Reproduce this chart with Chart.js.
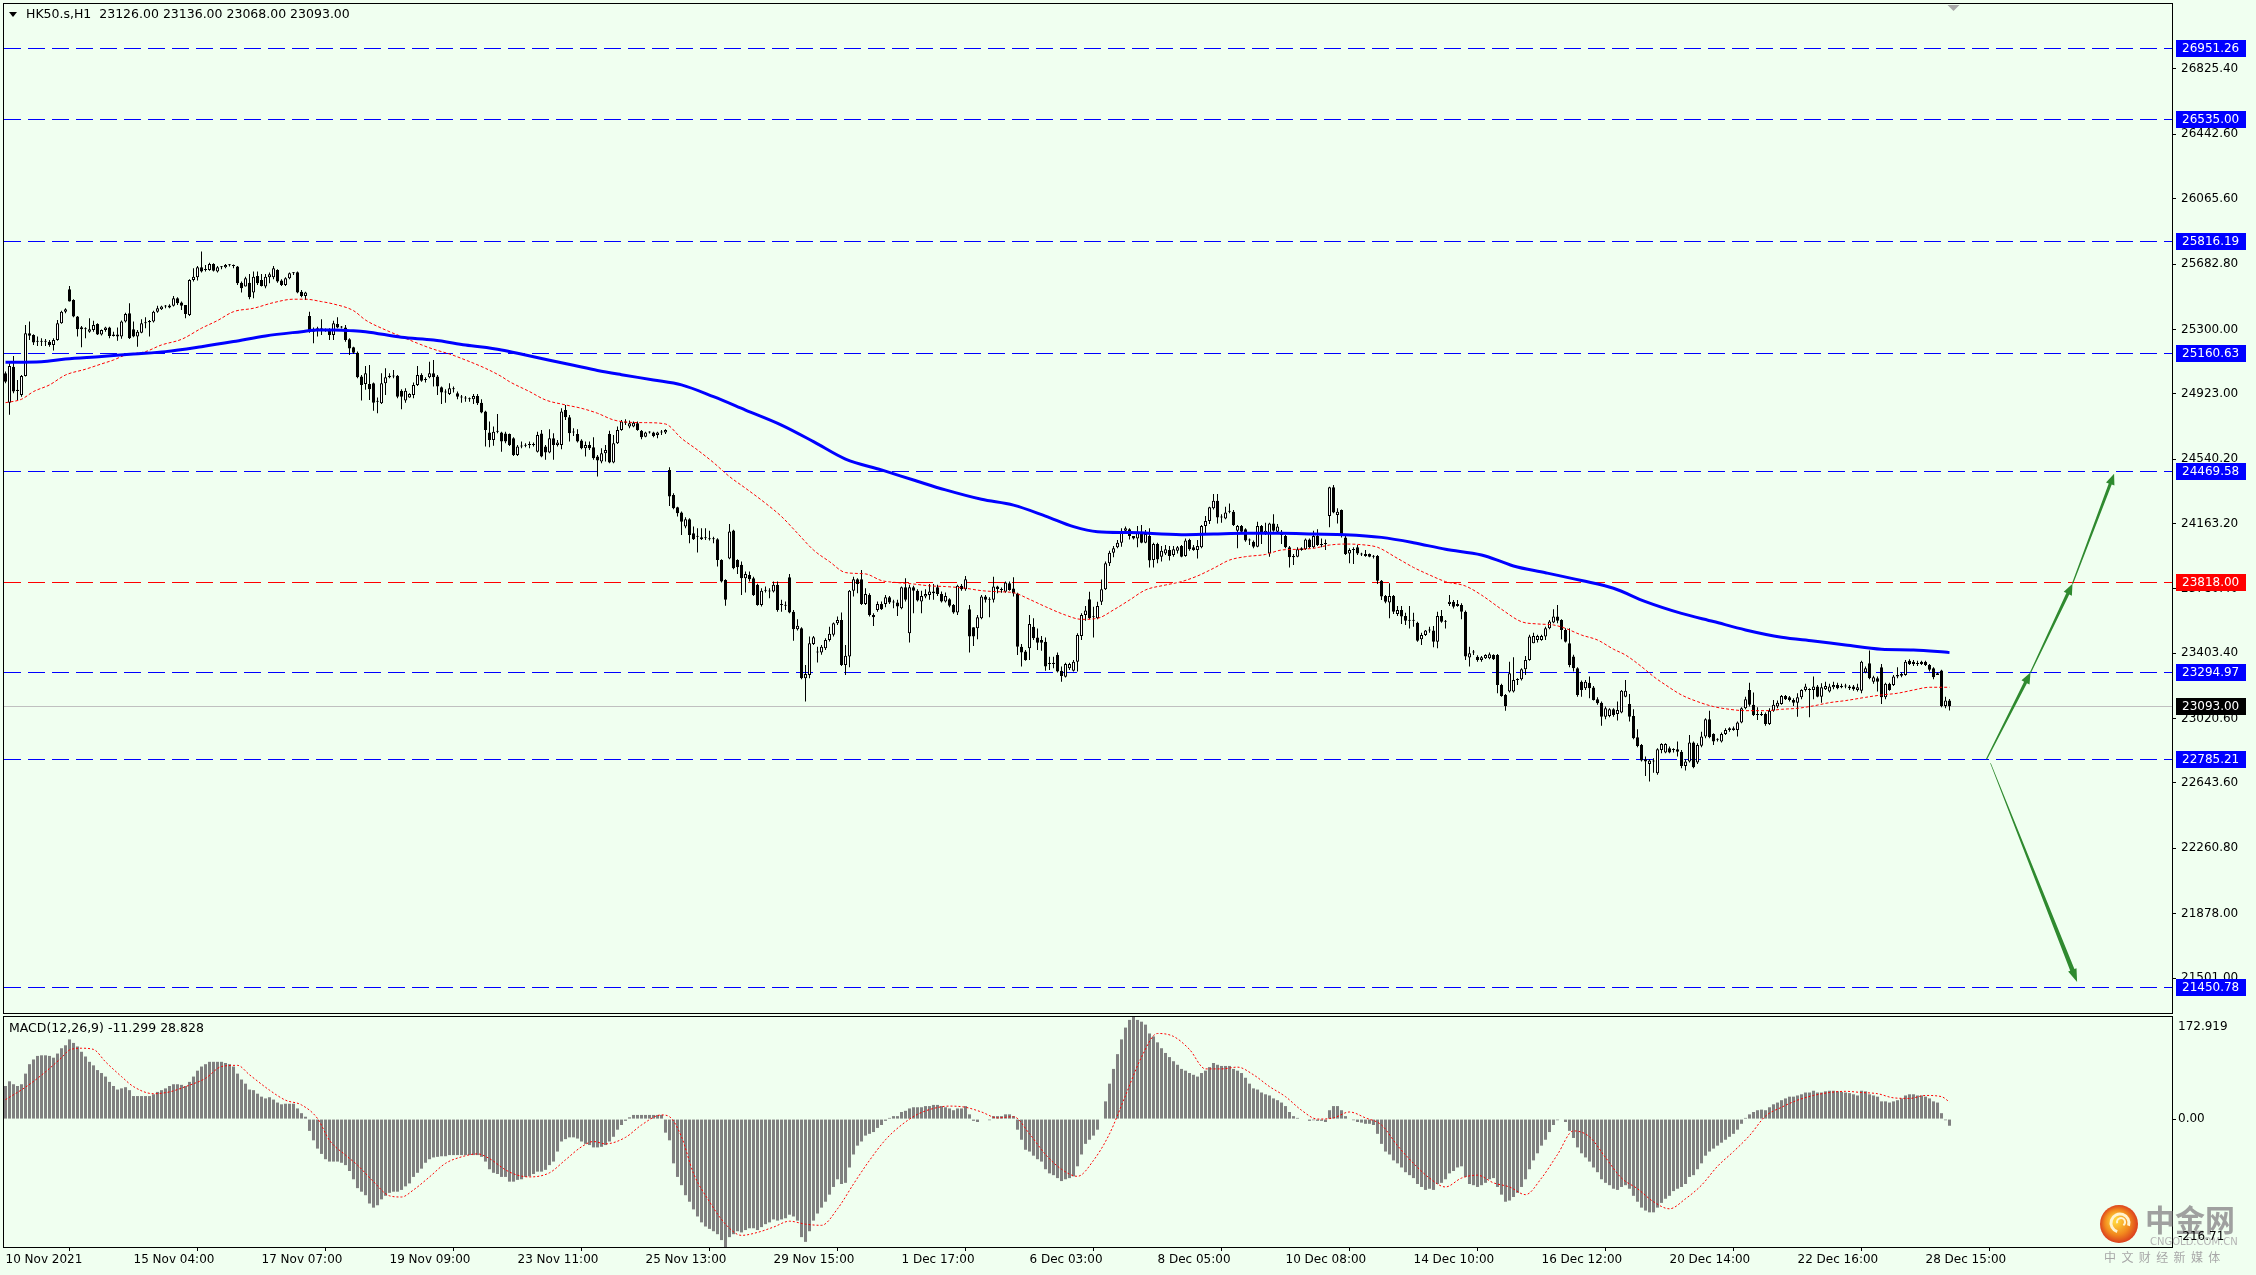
<!DOCTYPE html>
<html>
<head>
<meta charset="utf-8">
<title>HK50.s,H1</title>
<script src="https://cdn.jsdelivr.net/npm/chart.js@4.4.1/dist/chart.umd.min.js"></script>
<style>
  html, body { margin: 0; padding: 0; background: #f0fff0; }
  #wrap { position: relative; width: 2256px; height: 1275px; overflow: hidden; background: #f0fff0; }
  canvas { position: absolute; left: 0; }
  #main { top: 0; }
  #macd { top: 1014px; }
</style>
</head>
<body>
<div id="wrap">
  <canvas id="main" width="2256" height="1014"></canvas>
  <canvas id="macd" width="2256" height="261"></canvas>
</div>
<script>
// ─── data: HK50 H1 candles (bar index 0 = 10 Nov 2021) ───
const opens = [
  25043,24870,25082,24940,24916,25027,25277,25268,25228,25233,
  25228,25228,25209,25238,25336,25404,25535,25473,25375,25313,
  25301,25287,25297,25332,25271,25297,25312,25262,25271,25258,
  25346,25395,25301,25258,25281,25336,25342,25346,25404,25418,
  25434,25428,25438,25482,25457,25443,25385,25590,25605,25664,
  25648,25648,25683,25639,25664,25664,25676,25672,25668,25574,
  25551,25574,25516,25613,25590,25551,25605,25605,25648,25586,
  25560,25600,25629,25635,25521,25496,25379,25287,25301,25307,
  25297,25297,25268,25332,25312,25312,25242,25195,25164,25024,
  24981,24981,24985,24877,24867,24985,25020,25024,25028,24941,
  24883,24902,24916,24975,25033,25004,25020,25043,25024,24961,
  24930,24922,24950,24926,24902,24896,24891,24891,24910,24871,
  24819,24696,24653,24701,24696,24691,24687,24662,24565,24614,
  24618,24623,24623,24584,24691,24614,24579,24662,24623,24623,
  24828,24785,24696,24687,24649,24604,24623,24610,24555,24526,
  24575,24688,24520,24633,24711,24760,24731,24731,24750,24707,
  24672,24696,24696,24682,24696,24696,24477,24330,24258,24227,
  24145,24188,24106,24086,24071,24077,24071,24071,24071,23950,
  23833,23959,24122,23950,23921,23843,23862,23843,23804,23686,
  23770,23765,23765,23804,23686,23681,23848,23647,23544,23550,
  23257,23276,23458,23412,23407,23433,23481,23511,23579,23598,
  23335,23384,23770,23837,23837,23692,23745,23628,23657,23692,
  23692,23731,23700,23700,23667,23790,23520,23790,23770,23706,
  23735,23745,23755,23790,23751,23706,23720,23686,23642,23798,
  23778,23661,23555,23550,23608,23735,23716,23716,23794,23774,
  23764,23813,23783,23754,23442,23413,23432,23559,23496,23481,
  23471,23340,23348,23393,23301,23266,23315,23301,23354,23504,
  23627,23719,23614,23608,23705,23778,23930,23992,24024,24051,
  24121,24129,24090,24076,24115,24051,24090,23949,24043,23969,
  23988,24008,23979,24004,24031,23973,24067,24024,24008,24024,
  24149,24178,24252,24297,24199,24193,24232,24232,24121,24149,
  24129,24063,24057,24027,24149,24106,23988,24164,24115,24115,
  24090,24024,23973,23969,24008,24012,24070,24024,24090,24037,
  24043,24207,24375,24213,24242,24082,23988,24008,24024,23985,
  23973,23985,23969,23973,23828,23739,23700,23739,23633,23657,
  23621,23594,23594,23582,23485,23510,23536,23536,23471,23621,
  23588,23692,23705,23680,23686,23647,23379,23407,23383,23364,
  23374,23374,23393,23393,23218,23159,23179,23179,23247,23251,
  23309,23364,23462,23481,23481,23501,23550,23583,23618,23598,
  23540,23462,23384,23315,23237,23198,23231,23202,23134,23114,
  23032,23036,23075,23048,23056,23149,23106,23036,22911,22866,
  22783,22755,22769,22700,22837,22822,22847,22837,22841,22827,
  22743,22769,22880,22763,22861,22915,23017,22931,22896,22886,
  22931,22954,22964,22954,22997,23081,23188,23101,23048,23042,
  23048,22989,23067,23091,23106,23153,23145,23130,23114,23145,
  23188,23188,23188,23208,23149,23192,23179,23204,23218,23212,
  23208,23208,23208,23188,23184,23290,23345,23237,23257,23321,
  23145,23224,23218,23267,23271,23276,23360,23354,23345,23354,
  23354,23335,23315,23286,23302,23095,23126
];
const highs = [
  25053,25102,25145,25004,25033,25326,25346,25272,25258,25248,
  25244,25238,25248,25355,25410,25424,25555,25477,25379,25320,
  25313,25365,25351,25336,25300,25316,25316,25287,25312,25352,
  25398,25453,25346,25297,25359,25371,25355,25410,25438,25438,
  25443,25447,25496,25488,25463,25443,25594,25658,25672,25756,
  25678,25691,25687,25672,25672,25683,25683,25681,25672,25580,
  25609,25625,25639,25639,25625,25625,25633,25672,25652,25594,
  25605,25633,25637,25639,25531,25521,25404,25312,25316,25359,
  25305,25307,25351,25371,25320,25326,25248,25199,25170,25033,
  25086,25092,24989,24902,25043,25072,25043,25063,25033,24950,
  24955,24926,24989,25086,25043,25020,25111,25121,25033,24965,
  24950,24985,24965,24936,24916,24910,24902,24922,24922,24891,
  24824,24760,24731,24805,24701,24701,24691,24668,24623,24643,
  24633,24643,24637,24701,24711,24623,24715,24692,24653,24838,
  24858,24799,24721,24715,24657,24643,24643,24668,24565,24604,
  24623,24707,24682,24731,24770,24774,24766,24760,24760,24711,
  24701,24704,24701,24701,24711,24715,24493,24340,24262,24233,
  24200,24194,24145,24135,24135,24135,24121,24086,24077,23954,
  23837,24161,24126,23954,23940,23882,23882,23852,23810,23784,
  23794,23784,23823,23823,23716,23706,23868,23657,23602,23555,
  23335,23501,23505,23442,23452,23491,23559,23583,23618,23642,
  23452,23774,23852,23843,23891,23784,23755,23638,23706,23706,
  23745,23739,23716,23716,23794,23843,23804,23798,23778,23770,
  23778,23809,23809,23804,23765,23759,23725,23692,23804,23809,
  23856,23686,23555,23628,23745,23745,23731,23852,23798,23789,
  23823,23823,23848,23758,23457,23422,23627,23608,23549,23504,
  23496,23383,23383,23407,23325,23348,23348,23364,23520,23637,
  23680,23764,23676,23705,23836,23940,24004,24031,24067,24135,
  24145,24135,24090,24149,24154,24125,24135,24051,24051,24031,
  24037,24031,24031,24031,24037,24076,24074,24037,24067,24154,
  24207,24262,24336,24336,24218,24262,24281,24242,24154,24154,
  24135,24076,24063,24174,24154,24168,24168,24218,24160,24125,
  24096,24031,23985,24024,24024,24076,24076,24121,24129,24076,
  24070,24379,24389,24252,24246,24090,24018,24024,24037,23992,
  24008,23988,23979,23979,23832,23744,23813,23744,23680,23680,
  23641,23680,23641,23588,23524,23540,23559,23563,23647,23657,
  23598,23744,23715,23715,23696,23653,23442,23422,23391,23387,
  23397,23407,23397,23399,23224,23165,23354,23380,23257,23315,
  23387,23511,23524,23511,23511,23559,23598,23661,23686,23602,
  23550,23550,23394,23321,23243,23247,23267,23212,23145,23120,
  23091,23081,23081,23120,23188,23247,23165,23075,22958,22872,
  22798,22783,22788,22847,22876,22876,22857,22847,22886,22837,
  22783,22925,22886,22876,22944,23022,23067,22935,22905,22939,
  22964,22970,22974,23003,23087,23149,23231,23173,23087,23061,
  23056,23081,23130,23126,23159,23159,23153,23140,23169,23192,
  23224,23198,23267,23218,23227,23237,23224,23237,23231,23224,
  23224,23218,23218,23224,23360,23325,23419,23271,23267,23341,
  23231,23231,23276,23321,23290,23364,23368,23364,23360,23360,
  23360,23341,23321,23290,23306,23149,23136
];
const lows = [
  24985,24800,24926,24887,24906,25024,25238,25209,25203,25203,
  25203,25199,25176,25234,25333,25395,25463,25371,25258,25195,
  25248,25281,25287,25268,25265,25287,25248,25258,25234,25246,
  25340,25244,25254,25199,25277,25307,25258,25340,25398,25414,
  25424,25424,25434,25443,25414,25365,25379,25580,25586,25633,
  25639,25644,25639,25633,25652,25658,25668,25658,25560,25516,
  25551,25477,25482,25560,25551,25541,25570,25594,25574,25555,
  25555,25594,25619,25512,25488,25473,25281,25219,25258,25268,
  25287,25238,25238,25307,25305,25228,25150,25156,25014,24883,
  24946,24887,24824,24809,24863,24916,25014,25014,24897,24832,
  24871,24900,24897,24969,24994,24989,25014,24965,24916,24863,
  24871,24916,24930,24891,24871,24877,24877,24863,24857,24809,
  24614,24610,24618,24692,24584,24633,24617,24559,24559,24604,
  24610,24604,24614,24579,24551,24536,24575,24536,24614,24598,
  24770,24643,24676,24637,24598,24555,24594,24536,24438,24516,
  24526,24516,24516,24629,24707,24740,24721,24727,24707,24657,
  24668,24690,24668,24662,24682,24688,24266,24247,24204,24096,
  24135,24047,24067,23993,24067,24067,24063,24047,23911,23817,
  23681,23954,23895,23868,23745,23759,23823,23739,23681,23677,
  23759,23726,23759,23647,23647,23657,23638,23477,23536,23251,
  23120,23257,23452,23349,23394,23423,23472,23501,23569,23329,
  23276,23321,23735,23755,23686,23686,23618,23563,23647,23657,
  23673,23692,23667,23622,23661,23706,23466,23638,23706,23638,
  23725,23716,23716,23739,23700,23700,23673,23634,23628,23770,
  23770,23407,23446,23485,23603,23700,23614,23700,23755,23758,
  23758,23770,23735,23393,23325,23360,23364,23481,23422,23418,
  23301,23305,23315,23290,23237,23262,23305,23296,23296,23481,
  23594,23602,23496,23602,23686,23774,23914,23965,24018,24027,
  24110,24070,24070,24024,24047,24047,23906,23906,23930,23940,
  23979,23946,23969,23988,23965,23969,24004,24004,23959,24018,
  24106,24160,24246,24164,24168,24188,24223,24149,24018,24102,
  24057,24037,24018,24024,24043,24096,23969,24115,24110,24043,
  24018,23906,23920,23965,24004,24008,24018,24018,24031,24024,
  24008,24141,24223,24164,24082,23979,23930,23926,23979,23973,
  23969,23965,23959,23809,23715,23696,23608,23633,23621,23575,
  23569,23549,23559,23471,23452,23504,23524,23438,23432,23582,
  23549,23680,23666,23676,23602,23364,23325,23393,23354,23354,
  23370,23368,23364,23169,23149,23067,23173,23173,23218,23243,
  23276,23360,23462,23466,23476,23481,23544,23579,23579,23485,
  23466,23321,23296,23149,23149,23188,23140,23126,23101,22978,
  23017,23028,23032,23009,23052,23145,23003,22899,22853,22769,
  22685,22652,22704,22691,22818,22818,22818,22822,22798,22730,
  22716,22763,22730,22755,22853,22905,22905,22866,22886,22880,
  22925,22944,22950,22915,22993,23075,23091,23036,23013,23036,
  22978,22983,23061,23081,23101,23130,23120,23095,23032,23134,
  23179,23028,23134,23145,23114,23188,23173,23192,23192,23198,
  23198,23188,23184,23179,23169,23286,23251,23224,23179,23106,
  23134,23184,23212,23257,23263,23271,23335,23329,23329,23335,
  23329,23296,23251,23276,23087,23081,23068
];
const closes = [
  24994,25086,24936,24946,25027,25277,25263,25223,25233,25228,
  25233,25209,25238,25336,25404,25418,25463,25375,25301,25301,
  25301,25301,25326,25271,25297,25312,25262,25271,25258,25346,
  25390,25248,25258,25287,25336,25342,25350,25404,25424,25434,
  25434,25440,25482,25453,25438,25390,25590,25609,25664,25639,
  25648,25683,25644,25664,25664,25678,25676,25672,25570,25541,
  25600,25488,25609,25570,25555,25609,25623,25658,25580,25560,
  25600,25629,25629,25516,25496,25516,25287,25301,25301,25293,
  25297,25268,25336,25312,25312,25238,25189,25164,25020,24975,
  25043,24950,24871,24877,24985,25020,25028,25024,24906,24906,
  24941,24922,24975,25033,25000,25004,25043,25020,24965,24930,
  24930,24955,24950,24906,24902,24896,24891,24910,24867,24813,
  24711,24653,24701,24701,24643,24643,24623,24565,24614,24618,
  24623,24623,24623,24682,24555,24579,24662,24623,24637,24819,
  24785,24692,24696,24643,24604,24623,24604,24545,24532,24575,
  24594,24520,24633,24711,24760,24754,24750,24754,24711,24668,
  24696,24696,24676,24696,24696,24711,24321,24252,24223,24174,
  24188,24096,24071,24086,24083,24077,24071,24071,23950,23823,
  23716,24116,23901,23907,23843,23868,23837,23745,23686,23770,
  23770,23765,23804,23657,23686,23681,23642,23544,23564,23257,
  23282,23462,23497,23407,23442,23481,23517,23579,23598,23335,
  23388,23770,23837,23809,23692,23751,23628,23614,23692,23661,
  23731,23700,23700,23677,23790,23716,23790,23770,23712,23739,
  23751,23765,23765,23751,23706,23739,23681,23642,23798,23778,
  23837,23501,23501,23614,23735,23716,23720,23794,23780,23774,
  23817,23774,23754,23442,23407,23364,23575,23491,23465,23465,
  23325,23340,23340,23296,23270,23340,23340,23354,23510,23627,
  23653,23608,23614,23680,23778,23930,23992,24018,24051,24121,
  24135,24090,24076,24110,24051,24102,23946,24043,23953,24004,
  24012,23973,24012,24024,23969,24063,24012,24008,24031,24149,
  24178,24258,24297,24199,24199,24227,24232,24154,24149,24115,
  24063,24063,24027,24149,24106,24121,24164,24121,24145,24096,
  24024,23965,23965,24012,24018,24070,24024,24090,24037,24037,
  24043,24375,24227,24232,24090,23985,24008,24012,23988,23982,
  23985,23969,23969,23828,23735,23705,23739,23647,23657,23618,
  23594,23594,23594,23477,23510,23536,23536,23471,23621,23588,
  23588,23705,23676,23692,23647,23384,23403,23407,23364,23380,
  23393,23397,23368,23218,23153,23095,23286,23247,23247,23309,
  23364,23501,23505,23505,23505,23550,23589,23618,23594,23540,
  23471,23335,23315,23159,23188,23237,23198,23130,23110,23032,
  23081,23075,23042,23071,23184,23184,23032,22905,22860,22775,
  22769,22775,22769,22841,22872,22872,22822,22837,22827,22743,
  22769,22880,22736,22866,22915,23017,22911,22886,22896,22931,
  22954,22964,22954,22997,23081,23134,23101,23042,23042,23048,
  22989,23067,23101,23114,23153,23134,23130,23114,23145,23188,
  23208,23188,23208,23149,23204,23212,23208,23218,23198,23204,
  23208,23198,23192,23204,23354,23315,23257,23263,23237,23145,
  23224,23188,23267,23276,23282,23354,23341,23341,23341,23341,
  23335,23306,23263,23276,23095,23126,23093
];

// moving averages, read at sample bars
const redMaBars = [0,4,7,11,15,20,24,27,30,35,39,44,49,53,57,62,67,72,75,79,82,87,90,95,99,103,107,111,115,120,
  124,126,131,135,140,144,148,152,156,160,165,169,173,177,181,185,190,194,198,202,206,210,215,219,223,227,231,235,240,244,
  248,252,256,260,265,269,273,277,281,285,290,294,298,302,306,310,315,319,323,327,331,335,340,343,348,352,356,360,365,369,
  374,379,383,387,390,394,398,402,405,409,412,415,419,423,427,431,435,440,444,448,452,456,460,465,469,473,477,481,486];
const redMaVals = [24871,24891,24936,24975,25033,25067,25098,25121,25150,25170,25209,25242,25307,25352,25404,25424,25457,25477,25477,25463,
  25449,25410,25355,25297,25258,25219,25184,25156,25121,25072,25024,24994,24936,24887,24858,24838,24809,24770,24756,24754,
  24746,24662,24594,24520,24438,24370,24282,24204,24106,24008,23940,23876,23868,23829,23817,23809,23798,23794,23784,23770,
  23764,23758,23719,23676,23627,23602,23608,23657,23715,23774,23803,23823,23856,23901,23949,23969,23982,24008,24012,24018,
  24037,24043,24037,24024,23959,23906,23862,23823,23797,23744,23661,23588,23575,23569,23549,23510,23481,23427,23393,23325,
  23267,23218,23159,23120,23091,23075,23067,23067,23075,23081,23095,23114,23126,23145,23159,23169,23188,23204,23204];
const blueMaBars = [0,9,15,24,32,40,49,57,65,74,78,82,86,90,99,107,115,124,130,136,142,148,154,162,169,177,185,194,202,210,
  219,227,235,244,252,260,267,273,281,294,302,310,319,327,335,344,352,360,369,374,377,385,394,402,410,419,427,435,444,452,
  460,469,477,486];
const blueMaVals = [25108,25111,25127,25141,25156,25170,25199,25229,25262,25287,25297,25297,25293,25287,25254,25238,25209,25180,25150,25120,
  25090,25060,25035,25004,24975,24906,24828,24740,24643,24541,24477,24418,24360,24305,24271,24207,24145,24115,24110,24098,
  24102,24106,24106,24102,24098,24082,24051,24012,23979,23940,23914,23875,23829,23784,23706,23637,23589,23540,23497,23475,
  23452,23427,23423,23407];

// MACD(12,26,9) main per bar, signal at sample bars
const macdMain = [
  56,64,59,56,59,77,93,101,107,108, 108,107,104,111,120,125,135,129,123,114,
  106,97,91,83,78,72,63,56,50,52, 54,49,39,39,39,39,39,42,46,49,
  52,56,59,59,58,56,63,72,82,89, 93,97,97,97,97,95,93,89,77,67,
  60,50,49,43,38,35,37,33,28,25, 26,26,26,18,10,4,-20,-36,-50,-59,
  -68,-72,-72,-72,-74,-78,-88,-102,-117,-123, -129,-143,-150,-146,-136,-130,-125,-123,-123,-120,
  -114,-109,-98,-91,-84,-74,-68,-65,-64,-63, -63,-61,-61,-61,-61,-61,-61,-61,-61,-64,
  -72,-85,-91,-93,-98,-98,-106,-106,-103,-102, -98,-97,-93,-89,-89,-86,-78,-72,-55,-38,
  -34,-31,-31,-33,-38,-42,-44,-48,-48,-47, -44,-38,-30,-18,-10,-3,3,7,7,7,
  7,7,7,7,7,-23,-36,-75,-98,-112, -129,-140,-153,-165,-175,-182,-186,-190,-195,-205,
  -216.7,-200,-195,-190,-192,-188,-185,-185,-188,-183, -178,-175,-170,-172,-170,-168,-162,-165,-172,-200,
  -208,-190,-172,-160,-150,-140,-128,-115,-102,-110, -108,-82,-60,-45,-38,-28,-25,-22,-15,-10,
  -3,2,5,5,12,14,18,20,20,20, 22,22,24,24,22,20,18,15,18,18,
  22,8,-3,-5,0,0,-2,5,5,5, 8,8,5,-18,-35,-52,-55,-62,-68,-72,
  -85,-92,-95,-100,-105,-102,-100,-97,-80,-60, -42,-35,-28,-18,0,30,60,85,110,135,
  155,168,172.9,168,165,160,145,140,130,120, 112,105,98,92,85,82,78,75,72,78,
  82,88,95,92,90,90,90,85,82,78, 70,60,52,50,45,42,40,35,32,28,
  22,12,5,2,0,0,-3,-2,-3,-3, -5,15,22,22,15,5,0,-2,-5,-6,
  -8,-8,-10,-25,-42,-55,-60,-70,-75,-82, -90,-95,-100,-110,-115,-120,-118,-120,-110,-108,
  -102,-92,-88,-82,-80,-98,-110,-112,-115,-112, -108,-102,-100,-115,-128,-140,-138,-132,-125,-115,
  -102,-85,-70,-58,-45,-35,-22,-10,-2,0, -5,-20,-32,-48,-58,-65,-72,-82,-90,-102,
  -108,-112,-118,-120,-115,-112,-118,-130,-140,-150, -155,-158,-158,-150,-142,-135,-130,-122,-118,-115,
  -110,-98,-95,-85,-75,-62,-55,-50,-45,-40, -35,-30,-25,-18,-8,2,8,12,15,16,
  15,20,25,28,32,35,38,38,40,42, 45,45,48,45,45,47,48,48,47,46,
  45,44,42,40,48,47,42,40,38,30, 30,28,30,32,35,40,42,42,40,40,
  38,35,30,28,10,-2,-11.299
];
const signalBars = [0,5,10,14,16,19,22,25,29,32,37,41,45,50,54,58,61,66,70,74,78,81,85,88,92,96,99,102,106,110,
  114,118,121,125,128,131,136,140,144,147,150,155,159,164,166,169,172,176,180,184,188,192,196,200,204,208,212,216,220,224,
  228,232,236,240,244,248,252,256,260,264,268,272,276,280,284,288,292,296,300,304,308,312,316,320,324,328,332,336,340,344,
  348,352,356,360,364,368,372,376,380,384,388,392,396,400,404,408,412,416,420,424,428,432,436,440,444,448,452,456,460,464,
  468,472,476,480,484,486];
const signalVals = [33,54,80,104,117,120,118,97,72,55,43,46,55,69,89,91,75,49,32,24,1,-36,-61,-78,-106,-130,-132,-120,-98,-75,
  -64,-59,-67,-86,-95,-98,-91,-69,-47,-38,-42,-31,-10,7,4,-30,-92,-140,-178,-197,-192,-183,-173,-178,-180,-152,-110,-70,-35,-10,
  8,18,22,20,12,2,4,-25,-60,-85,-97,-70,-25,40,105,145,140,118,85,85,88,75,55,38,15,0,2,12,2,-10,
  -45,-75,-100,-115,-100,-95,-108,-115,-128,-100,-60,-20,-30,-65,-100,-118,-140,-152,-135,-112,-80,-55,-28,5,20,32,40,45,47,45,
  43,36,35,40,38,28.828];

// levels, axis ticks, time labels
const levels = [26951.26, 26535.00, 25816.19, 25160.63, 24469.58, 23818.00, 23294.97, 22785.21, 21450.78];
const redLevel = 23818.00;
const lastPrice = 23093.00;
const priceTicks = [26825.40, 26442.60, 26065.60, 25682.80, 25300.00, 24923.00, 24540.20, 24163.20,
  23780.40, 23403.40, 23020.60, 22643.60, 22260.80, 21878.00, 21501.00];
const dateTickBars = [0,32,64,96,128,160,192,224,256,288,320,352,384,416,448,480];
const dateLabels = ['10 Nov 2021','15 Nov 04:00','17 Nov 07:00','19 Nov 09:00','23 Nov 11:00','25 Nov 13:00',
  '29 Nov 15:00','1 Dec 17:00','6 Dec 03:00','8 Dec 05:00','10 Dec 08:00','14 Dec 10:00','16 Dec 12:00',
  '20 Dec 14:00','22 Dec 16:00','28 Dec 15:00'];
// analyst arrows: [bar, price] from -> to
const arrowFrom = [[495.25, 22782], [506.25, 23290], [516.75, 23810], [496.25, 22760]];
const arrowTo   = [[506.25, 23290], [516.75, 23810], [527.15, 24455], [517.9, 21478]];

// ─── chart ───
const X_MIN = -0.375, X_MAX = 541.625;
const Y_MIN = 21296.2, Y_MAX = 27206.1;
const MACD_MIN = -216.71, MACD_MAX = 172.919;
const FONT = "'DejaVu Sans', sans-serif";
const ARROW_GREEN = '#2f8a2f';

Chart.defaults.font.family = FONT;
Chart.defaults.font.size = 12;
Chart.defaults.color = '#000';

const bars = closes.map((c, i) => i);

function noPad(s) { s.paddingLeft = 0; s.paddingRight = 0; s.paddingTop = 0; s.paddingBottom = 0; }

function drawArrow(ctx, x0, y0, x1, y1, w0, w1, hl, hw) {
  const dx = x1 - x0, dy = y1 - y0, len = Math.hypot(dx, dy);
  const ux = dx / len, uy = dy / len, nx = -uy, ny = ux;
  const bx = x1 - ux * hl, by = y1 - uy * hl;
  ctx.beginPath();
  ctx.moveTo(x0 + nx * w0 / 2, y0 + ny * w0 / 2);
  ctx.lineTo(bx + nx * w1 / 2, by + ny * w1 / 2);
  ctx.lineTo(bx + nx * hw, by + ny * hw);
  ctx.lineTo(x1, y1);
  ctx.lineTo(bx - nx * hw, by - ny * hw);
  ctx.lineTo(bx - nx * w1 / 2, by - ny * w1 / 2);
  ctx.lineTo(x0 - nx * w0 / 2, y0 - ny * w0 / 2);
  ctx.closePath();
  ctx.fill();
}

function priceBox(ctx, a, py, text, bg) {
  const top = Math.round(py) - 8;
  ctx.fillStyle = bg;
  ctx.fillRect(a.right + 4, top, 70, 17);
  ctx.fillStyle = '#fff';
  ctx.textAlign = 'left';
  ctx.textBaseline = 'middle';
  ctx.fillText(text, a.right + 10, top + 9);
}

const mainDecor = {
  id: 'mainDecor',
  beforeDatasetsDraw(chart) {
    const { ctx, chartArea: a, scales: { y } } = chart;
    ctx.save();
    ctx.beginPath();
    ctx.rect(a.left, a.top, a.width, a.height);
    ctx.clip();
    ctx.lineWidth = 1;
    const yc = Math.round(y.getPixelForValue(lastPrice)) + 0.5;
    ctx.strokeStyle = '#c0c0c0';
    ctx.beginPath(); ctx.moveTo(a.left, yc); ctx.lineTo(a.right, yc); ctx.stroke();
    ctx.setLineDash([17, 7]);
    levels.forEach(v => {
      const py = Math.round(y.getPixelForValue(v)) + 0.5;
      ctx.strokeStyle = v === redLevel ? '#ff0000' : '#0000ff';
      ctx.beginPath(); ctx.moveTo(a.left, py); ctx.lineTo(a.right, py); ctx.stroke();
    });
    ctx.restore();
  },
  afterDatasetsDraw(chart) {
    const { ctx, chartArea: a, scales: { x, y } } = chart;
    ctx.save();
    ctx.beginPath(); ctx.rect(a.left, a.top, a.width, a.height); ctx.clip();
    ctx.fillStyle = ARROW_GREEN;
    arrowFrom.forEach((f, i) => {
      const t = arrowTo[i];
      const down = t[1] < f[1];
      drawArrow(ctx, x.getPixelForValue(f[0]), y.getPixelForValue(f[1]),
        x.getPixelForValue(t[0]), y.getPixelForValue(t[1]),
        down ? 0.6 : 1.2, down ? 4.5 : 3.2, down ? 13 : 11, 4.5);
    });
    ctx.restore();
  },
  afterDraw(chart) {
    const { ctx, chartArea: a, scales: { x, y } } = chart;
    ctx.save();
    ctx.font = '12px ' + FONT;
    levels.forEach(v => priceBox(ctx, a, y.getPixelForValue(v), v.toFixed(2), v === redLevel ? '#ff0000' : '#0000ff'));
    priceBox(ctx, a, y.getPixelForValue(lastPrice), lastPrice.toFixed(2), '#000000');
    // frame
    ctx.strokeStyle = '#000';
    ctx.lineWidth = 1;
    ctx.strokeRect(a.left - 0.5, a.top - 0.5, a.width + 1, a.height + 1);
    // title
    ctx.fillStyle = '#000';
    ctx.beginPath(); ctx.moveTo(9, 12); ctx.lineTo(17, 12); ctx.lineTo(13, 17); ctx.closePath(); ctx.fill();
    ctx.font = '12.5px ' + FONT;
    ctx.textAlign = 'left';
    ctx.textBaseline = 'middle';
    ctx.fillText('HK50.s,H1  ' + [opens, highs, lows, closes].map(s => s[s.length - 1].toFixed(2)).join(' '), 26, 15);
    // chart shift marker
    const sx = x.getPixelForValue(closes.length);
    ctx.fillStyle = '#a8a8a8';
    ctx.beginPath(); ctx.moveTo(sx - 6, a.top + 1); ctx.lineTo(sx + 6, a.top + 1); ctx.lineTo(sx, a.top + 7); ctx.closePath(); ctx.fill();
    ctx.restore();
  }
};

new Chart(document.getElementById('main'), {
  type: 'bar',
  data: {
    datasets: [
      {
        type: 'line', order: 1,
        data: blueMaBars.map((b, i) => ({ x: b, y: blueMaVals[i] })),
        borderColor: '#0000ff', borderWidth: 3, pointRadius: 0, cubicInterpolationMode: 'monotone'
      },
      {
        type: 'line', order: 2,
        data: redMaBars.map((b, i) => ({ x: b, y: redMaVals[i] })),
        borderColor: '#ff0000', borderWidth: 1, borderDash: [3, 2], pointRadius: 0, cubicInterpolationMode: 'monotone'
      },
      {
        order: 3,
        data: bars.map(i => ({ x: i, y: [opens[i], closes[i]] })),
        backgroundColor: bars.map(i => closes[i] > opens[i] ? '#ffffff' : '#000000'),
        borderColor: '#000', borderWidth: 1, borderSkipped: false,
        barThickness: 3, minBarLength: 1, grouped: false, inflateAmount: 0
      },
      {
        order: 4,
        data: bars.map(i => ({ x: i, y: [lows[i], highs[i]] })),
        backgroundColor: '#000', borderWidth: 0,
        barThickness: 1, minBarLength: 1, grouped: false, inflateAmount: 0
      }
    ]
  },
  options: {
    responsive: false,
    devicePixelRatio: 1,
    animation: false,
    events: [],
    layout: { padding: { left: 4, top: 4, right: 0, bottom: 1 } },
    plugins: { legend: { display: false }, tooltip: { enabled: false } },
    scales: {
      x: { type: 'linear', min: X_MIN, max: X_MAX, offset: false, display: false },
      y: {
        position: 'right', min: Y_MIN, max: Y_MAX,
        afterBuildTicks: s => { s.ticks = priceTicks.map(v => ({ value: v })); },
        afterFit: s => { s.width = 84; noPad(s); },
        ticks: { callback: v => Number(v).toFixed(2), padding: 5, autoSkip: false, color: '#000' },
        grid: { drawOnChartArea: false, drawTicks: true, tickLength: 4, color: '#000' },
        border: { display: true, color: '#000' }
      }
    }
  },
  plugins: [mainDecor]
});

const macdDecor = {
  id: 'macdDecor',
  afterDraw(chart) {
    const { ctx, chartArea: a } = chart;
    ctx.save();
    ctx.strokeStyle = '#000';
    ctx.lineWidth = 1;
    ctx.strokeRect(a.left - 0.5, a.top - 0.5, a.width + 1, a.height + 1);
    ctx.font = '12.5px ' + FONT;
    ctx.fillStyle = '#000';
    ctx.textAlign = 'left';
    ctx.textBaseline = 'middle';
    ctx.fillText('MACD(12,26,9) ' + macdMain[macdMain.length - 1].toFixed(3) + ' ' +
      signalVals[signalVals.length - 1].toFixed(3), 9, 15);

    // watermark
    const cx = 2119, cy = 210;
    const g = ctx.createRadialGradient(cx - 4, cy - 4, 3, cx, cy, 20);
    g.addColorStop(0, '#ffd23a');
    g.addColorStop(0.55, '#f28a1e');
    g.addColorStop(1, '#d8361e');
    ctx.fillStyle = g;
    ctx.beginPath(); ctx.arc(cx, cy, 19, 0, Math.PI * 2); ctx.fill();
    ctx.strokeStyle = '#fff3d0';
    ctx.lineWidth = 3;
    ctx.beginPath(); ctx.arc(cx + 1, cy - 1, 9, Math.PI * 0.6, Math.PI * 2.1); ctx.stroke();
    ctx.lineWidth = 2;
    ctx.beginPath(); ctx.arc(cx + 2, cy - 2, 4, Math.PI * 0.9, Math.PI * 2.3); ctx.stroke();
    ctx.fillStyle = 'rgba(150,150,150,0.9)';
    ctx.font = "bold 30px 'Noto Sans CJK SC', sans-serif";
    ctx.fillText('中金网', 2145, 206);
    ctx.fillStyle = '#b4b4b4';
    ctx.font = '10px ' + FONT;
    ctx.fillText('CNGOLD.COM.CN', 2150, 228);
    ctx.font = "12px 'Noto Sans CJK SC', sans-serif";
    ctx.fillStyle = '#a8a8a8';
    ctx.fillText('中  文  财  经  新  媒  体', 2104, 243);

    // panel range labels
    ctx.font = '12px ' + FONT;
    ctx.fillStyle = '#000';
    ctx.fillText(MACD_MAX.toFixed(3), a.right + 6, a.top + 10);
    ctx.fillText(MACD_MIN.toFixed(2), a.right + 6, a.bottom - 10);
    ctx.restore();
  }
};

new Chart(document.getElementById('macd'), {
  type: 'bar',
  data: {
    datasets: [
      {
        type: 'line', order: 1,
        data: signalBars.map((b, i) => ({ x: b, y: signalVals[i] })),
        borderColor: '#ff0000', borderWidth: 1, borderDash: [2, 2], pointRadius: 0, cubicInterpolationMode: 'monotone'
      },
      {
        order: 2,
        data: bars.map(i => ({ x: i, y: macdMain[i] })),
        backgroundColor: '#808080', borderWidth: 0,
        barThickness: 3, grouped: false, inflateAmount: 0
      }
    ]
  },
  options: {
    responsive: false,
    devicePixelRatio: 1,
    animation: false,
    events: [],
    layout: { padding: { left: 4, top: 3, right: 0, bottom: 0 } },
    plugins: { legend: { display: false }, tooltip: { enabled: false } },
    scales: {
      x: {
        type: 'linear', min: X_MIN, max: X_MAX, offset: false,
        afterBuildTicks: s => { s.ticks = dateTickBars.map(v => ({ value: v })); },
        afterFit: s => { s.height = 28; noPad(s); },
        ticks: { callback: (v, i) => dateLabels[i], align: 'start', maxRotation: 0, minRotation: 0, autoSkip: false, padding: 2, color: '#000' },
        grid: { drawOnChartArea: false, drawTicks: true, tickLength: 4, color: '#000' },
        border: { display: true, color: '#000' }
      },
      y: {
        position: 'right', min: MACD_MIN, max: MACD_MAX,
        afterBuildTicks: s => { s.ticks = [{ value: 0 }]; },
        afterFit: s => { s.width = 84; noPad(s); },
        ticks: { callback: v => Number(v).toFixed(2), padding: 2, color: '#000' },
        grid: { drawOnChartArea: false, drawTicks: true, tickLength: 4, color: '#000' },
        border: { display: true, color: '#000' }
      }
    }
  },
  plugins: [macdDecor]
});
</script>
</body>
</html>
